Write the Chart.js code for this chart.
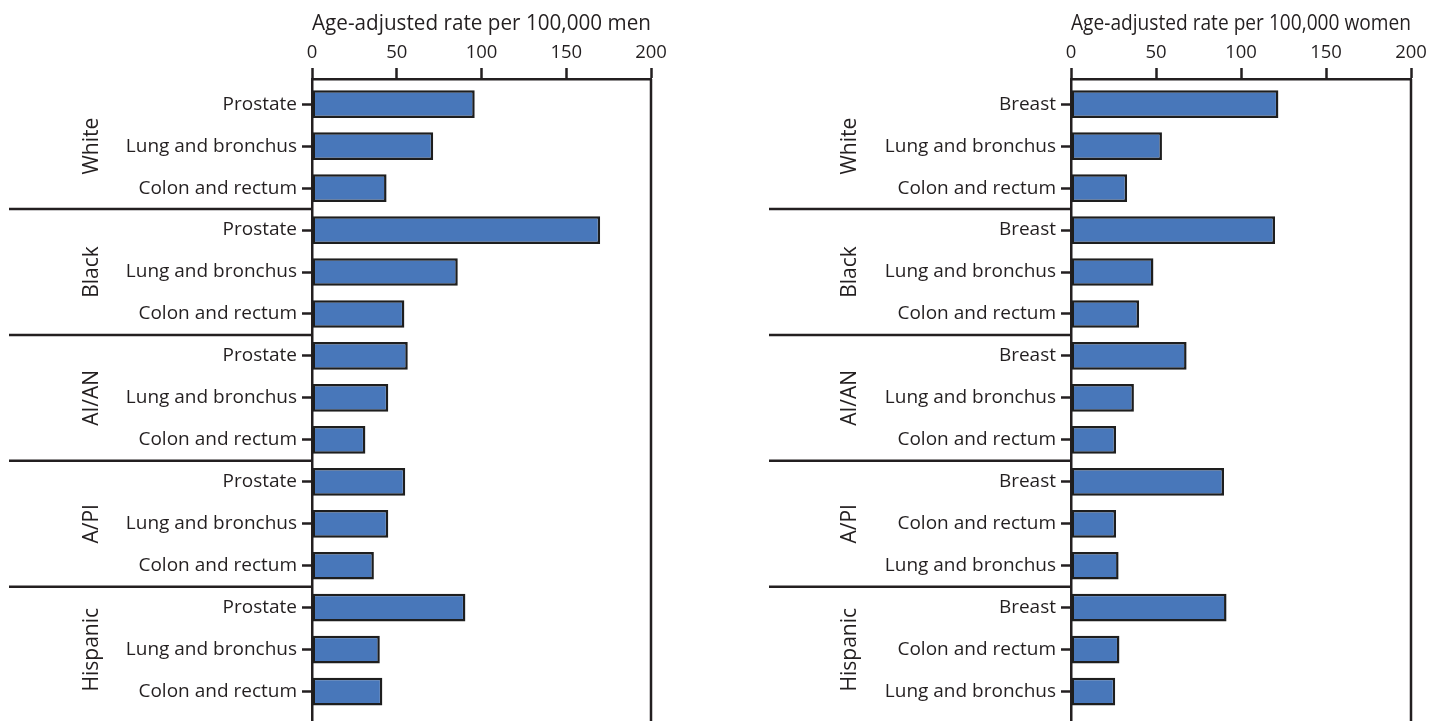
<!DOCTYPE html>
<html>
<head>
<meta charset="utf-8">
<script src="https://cdn.jsdelivr.net/npm/chart.js@4/dist/chart.umd.min.js"></script>
<style>
	body { margin: 0; background: #fff; }
	.panel { position: absolute; top: 0; width: 722px; height: 721px; }
	#menBox { left: 0; }
	#womenBox { left: 722px; }
</style>
</head>
<body>
<div class="panel" id="menBox"><canvas id="men"></canvas></div>
<div class="panel" id="womenBox"><canvas id="women"></canvas></div>
<script>
// groups of three bars each, top to bottom
const groups = ['White', 'Black', 'AI/AN', 'A/PI', 'Hispanic'];

const menSites = [
	'Prostate', 'Lung and bronchus', 'Colon and rectum',
	'Prostate', 'Lung and bronchus', 'Colon and rectum',
	'Prostate', 'Lung and bronchus', 'Colon and rectum',
	'Prostate', 'Lung and bronchus', 'Colon and rectum',
	'Prostate', 'Lung and bronchus', 'Colon and rectum'
];
const menRates = [96, 71.5, 44, 170, 86, 54.5, 56.5, 45, 31.5, 55, 45, 36.5, 90.5, 40, 41.5];

const womenSites = [
	'Breast', 'Lung and bronchus', 'Colon and rectum',
	'Breast', 'Lung and bronchus', 'Colon and rectum',
	'Breast', 'Lung and bronchus', 'Colon and rectum',
	'Breast', 'Colon and rectum', 'Lung and bronchus',
	'Breast', 'Colon and rectum', 'Lung and bronchus'
];
const womenRates = [122, 53.5, 33, 120, 48.5, 40, 68, 37, 26.5, 90, 26.5, 28, 91.5, 28.5, 26];

const xTicks = [0, 50, 100, 150, 200];

const ink = '#231f20';
Chart.defaults.font.family = '"Open Sans", sans-serif';
Chart.defaults.font.size = 19;
Chart.defaults.color = ink;

const groupPlugin = {
	id: 'groups',
	afterDraw(chart, args, opts) {
		const {ctx, chartArea, scales: {y}} = chart;
		ctx.save();
		ctx.strokeStyle = ink;
		ctx.lineWidth = 2.5;
		ctx.beginPath();
		ctx.moveTo(chartArea.right, chartArea.top);
		ctx.lineTo(chartArea.right, chartArea.bottom);
		for (let g = 1; g < groups.length; g++) {
			const yy = y.getPixelForValue(g * 3 - 0.5);
			ctx.moveTo(opts.sepStart, yy);
			ctx.lineTo(chartArea.left, yy);
		}
		ctx.stroke();
		ctx.fillStyle = ink;
		ctx.font = '21px "Open Sans", sans-serif';
		ctx.textAlign = 'center';
		ctx.textBaseline = 'middle';
		groups.forEach((name, g) => {
			ctx.save();
			ctx.translate(opts.labelX, y.getPixelForValue(g * 3 + 1));
			ctx.rotate(-Math.PI / 2);
			ctx.fillText(name, 0, 0);
			ctx.restore();
		});
		ctx.restore();
	}
};

function makeChart(id, sites, rates, title, axisWidth, rightPad, sepStart, labelX, titleAlign){
	new Chart(document.getElementById(id), {
		type: 'bar',
		data: {
			datasets: [{
				data: rates.map((v, i) => ({x: v, y: i})),
				backgroundColor: '#4877ba',
				borderColor: '#1e1e1e',
				borderWidth: 2.5,
				borderSkipped: false,
				barPercentage: 0.66,
				categoryPercentage: 1
			}]
		},
		options: {
			indexAxis: 'y',
			responsive: true,
			maintainAspectRatio: false,
			animation: false,
			layout: { padding: { left: 0, right: rightPad, top: 0, bottom: 0 } },
			plugins: {
				legend: { display: false },
				tooltip: { enabled: false },
				groups: { sepStart: sepStart, labelX: labelX }
			},
			scales: {
				x: {
					type: 'linear',
					position: 'top',
					min: 0,
					max: 200,
					afterBuildTicks: s => { s.ticks = xTicks.map(v => ({value: v})); },
					afterFit: s => { s.height = 79; s.paddingLeft = 0; s.paddingRight = 0; },
					ticks: { padding: 4, font: { size: 18.5 } },
					grid: { drawOnChartArea: false, tickLength: 11, tickWidth: 2.5, tickColor: ink },
					border: { display: true, color: ink, width: 2.5 },
					title: {
						display: true,
						text: title,
						align: titleAlign,
						font: { size: 21 },
						padding: { top: 11, bottom: 0 }
					}
				},
				y: {
					type: 'linear',
					reverse: true,
					offset: false,
					min: -0.6,
					max: 14.7,
					afterBuildTicks: s => { s.ticks = sites.map((t, i) => ({value: i})); },
					afterFit: s => { s.width = axisWidth; s.paddingTop = 0; s.paddingBottom = 0; },
					ticks: {
						autoSkip: false,
						padding: 5,
						callback: v => sites[v]
					},
					grid: { offset: false, drawOnChartArea: false, tickLength: 10, tickWidth: 2.5, tickColor: ink },
					border: { display: true, color: ink, width: 2.5 }
				}
			}
		},
		plugins: [groupPlugin]
	});
}

makeChart('men', menSites, menRates, 'Age-adjusted rate per 100,000 men', 312, 71, 9, 92, 'center');
makeChart('women', womenSites, womenRates, 'Age-adjusted rate per 100,000 women', 349, 33, 47, 128, 'end');
</script>
</body>
</html>
